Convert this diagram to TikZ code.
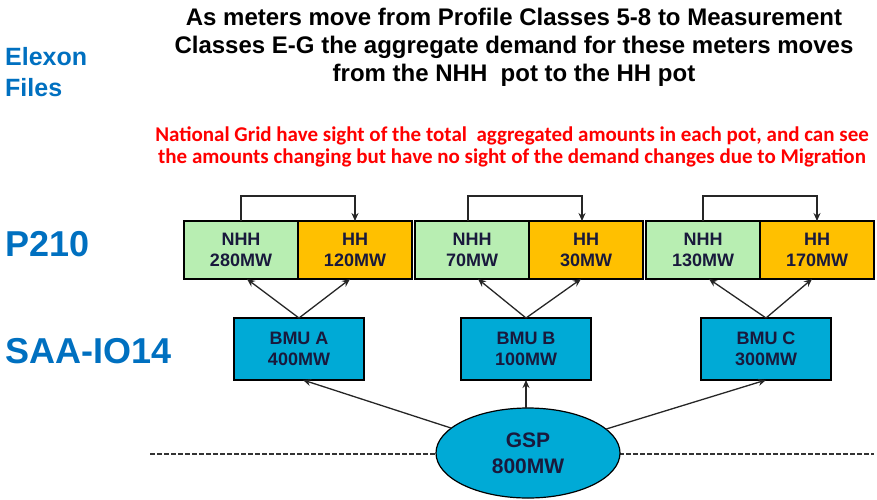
\documentclass[tikz,border=0pt]{standalone}
\usepackage{fontspec}
\setmainfont{Liberation Sans}
\newfontfamily\notefont{Carlito}
\usetikzlibrary{positioning,shapes.geometric,arrows.meta}
\definecolor{elexonblue}{RGB}{0,112,192}
\definecolor{nhhgreen}{RGB}{184,238,178}
\definecolor{hhorange}{RGB}{255,192,0}
\definecolor{bmucyan}{RGB}{0,170,214}
\definecolor{boxtext}{RGB}{25,25,60}

\begin{document}
\begin{tikzpicture}[x=1pt,y=-1pt,
  pot/.style={draw=black,line width=1.2pt,outer sep=0pt,inner sep=0pt,
    minimum width=114pt,minimum height=58pt,align=center,text=boxtext,
    font=\fontsize{18}{21}\selectfont\bfseries},
  nhh/.style={pot,fill=nhhgreen},
  hh/.style={pot,fill=hhorange},
  bmu/.style={pot,fill=bmucyan,minimum width=130pt,minimum height=62pt},
  gspnode/.style={ellipse,draw=black,line width=1.2pt,fill=bmucyan,outer sep=0pt,
    minimum width=184pt,minimum height=90pt,align=center,text=boxtext,
    font=\fontsize{21}{26}\selectfont\bfseries},
  flow/.style={-{Stealth[length=8pt,width=7pt]},line width=1.3pt,draw=black!85},
  sidelabel/.style={anchor=west,align=left,text=elexonblue,inner sep=0pt},
]
\useasboundingbox (0,0) rectangle (877,499);

% headings
\node[align=center,font=\fontsize{24}{28}\selectfont\bfseries] (title) at (514,47)
  {As meters move from Profile Classes 5-8 to Measurement\\
   Classes E-G the aggregate demand for these meters moves\\
   from the NHH\ \ pot to the HH pot};
\node[align=center,text=red,font=\notefont\fontsize{21}{22}\selectfont\bfseries] (note) at (512,147)
  {National Grid have sight of the total\ \ aggregated amounts in each pot, and can see\\
   the amounts changing but have no sight of the demand changes due to Migration};
\node[sidelabel,font=\fontsize{25}{31}\selectfont\bfseries] (elexon) at (5,72) {Elexon\\Files};
\node[sidelabel,font=\fontsize{36}{40}\selectfont\bfseries] (ptwo) at (5,244) {P210};
\node[sidelabel,font=\fontsize{36}{40}\selectfont\bfseries] (saa) at (5,351) {SAA-IO14};

% boundary line
\coordinate (cutL) at (150,454);
\coordinate (cutR) at (874,454);
\draw[line width=1.3pt,dash pattern=on 5pt off 2pt,black!80] (cutL) -- (cutR);

% pots
\node[nhh] (nhhA) at (241,250) {NHH\\280MW};
\node[hh,right=0pt of nhhA] (hhA) {HH\\120MW};
\node[nhh] (nhhB) at (472,250) {NHH\\70MW};
\node[hh,right=0pt of nhhB] (hhB) {HH\\30MW};
\node[nhh] (nhhC) at (703,250) {NHH\\130MW};
\node[hh,right=0pt of nhhC] (hhC) {HH\\170MW};

% BMUs
\node[bmu] (bmuA) at (299,349) {BMU A\\400MW};
\node[bmu] (bmuB) at (526,349) {BMU B\\100MW};
\node[bmu] (bmuC) at (766,349) {BMU C\\300MW};

\node[gspnode] (gsp) at (528,453) {GSP\\800MW};

% migration NHH -> HH
\draw[flow] (nhhA.north) -- ++(0,-25) -| (hhA.north);
\draw[flow] ([xshift=-4pt]nhhB.north) -- ++(0,-25) -| ([xshift=-4pt]hhB.north);
\draw[flow] (nhhC.north) -- ++(0,-25) -| (hhC.north);

% BMU -> pots
\draw[flow] (bmuA.north) -- ([xshift=6pt]nhhA.south);
\draw[flow] (bmuA.north) -- ([xshift=-5pt]hhA.south);
\draw[flow] (bmuB.north) -- ([xshift=6pt]nhhB.south);
\draw[flow] (bmuB.north) -- ([xshift=-5pt]hhB.south);
\draw[flow] (bmuC.north) -- ([xshift=6pt]nhhC.south);
\draw[flow] (bmuC.north) -- ([xshift=-5pt]hhC.south);

% GSP -> BMUs
\draw[flow] (gsp) -- ([xshift=4pt]bmuA.south);
\draw[flow] (gsp.north -| bmuB.south) -- (bmuB.south);
\draw[flow] (gsp) -- (bmuC.south);
\end{tikzpicture}
\end{document}
